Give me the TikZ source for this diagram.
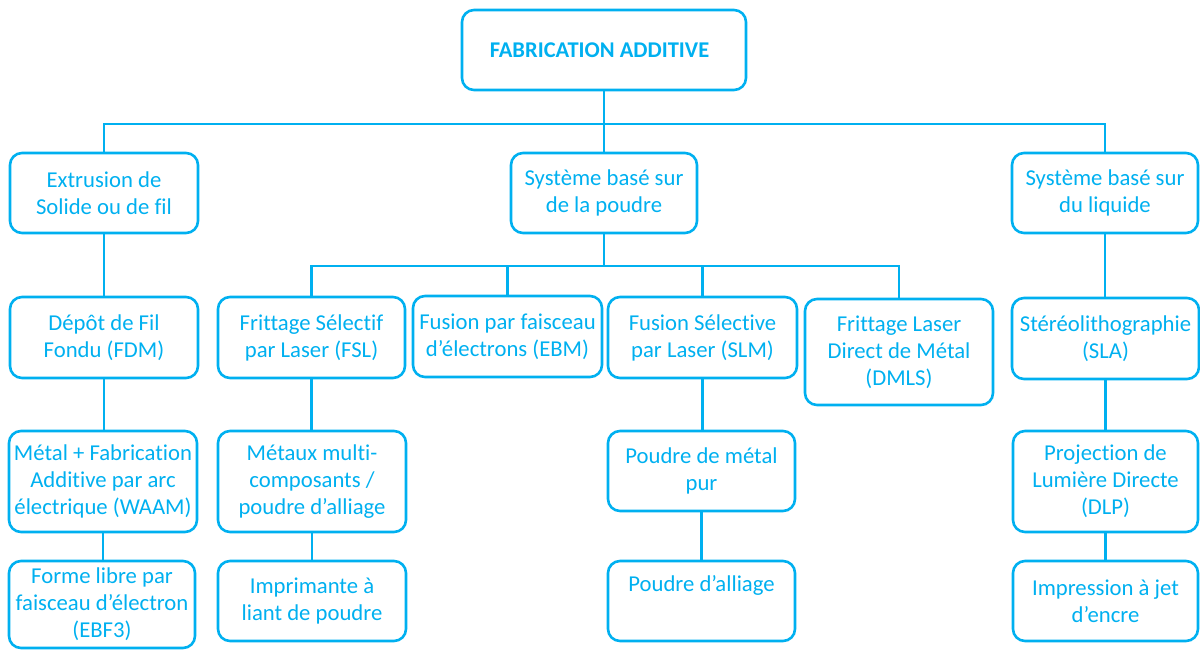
\documentclass[tikz,border=0pt]{standalone}
\usepackage{fontspec}
\setmainfont{Carlito}[Ligatures={TeX,NoCommon}]
\definecolor{cb}{RGB}{0,176,240}
\begin{document}
\begin{tikzpicture}[x=1pt,y=-1pt,
  box/.style={draw=cb, line width=2.6pt, rounded corners=12pt, align=center,
    text=cb, inner sep=0pt, font=\fontsize{22.7}{27}\selectfont,
    minimum width=187pt, minimum height=81pt},
  link/.style={draw=cb, line width=2.2pt}]
\useasboundingbox (0,0) rectangle (1200,649);
% level 0
\node[box, minimum width=284pt, minimum height=80pt, font=\fontsize{22.5}{27}\selectfont\bfseries] (top) at (604,50) {FABRICATION ADDITIVE\hspace*{9pt}};
% level 1
\node[box, minimum width=188pt, minimum height=80pt] (ext) at (104,193) {Extrusion de\\Solide ou de fil};
\node[box, minimum width=186pt, minimum height=80pt] (pou) at (604,193) {Système basé sur\\de la poudre};
\node[box, minimum width=186pt, minimum height=80pt] (liq) at (1105,193) {Système basé sur\\du liquide};
% level 2
\node[box, minimum width=188pt] (fdm) at (104,337.5) {Dépôt de Fil\\Fondu (FDM)};
\node[box] (fsl) at (311.5,337.5) {Frittage Sélectif\\par Laser (FSL)};
\node[box, minimum width=189pt] (ebm) at (507.5,336.5) {Fusion par faisceau\\d’électrons (EBM)};
\node[box, minimum width=189pt] (slm) at (702.5,337.5) {Fusion Sélective\\par Laser (SLM)};
\node[box, minimum width=188pt, minimum height=106pt] (dmls) at (899,352) {Frittage Laser\\Direct de Métal\\(DMLS)};
\node[box] (sla) at (1105.5,338.5) {Stéréolithographie\\(SLA)};
% level 3
\node[box, minimum width=188pt, minimum height=101pt] (waam) at (103,481.5) {Métal + Fabrication\\Additive par arc\\électrique (WAAM)};
\node[box, minimum width=188pt, minimum height=101pt] (met) at (312,481.5) {Métaux multi-\\composants /\\poudre d'alliage};
\node[box, minimum height=80pt] (pur) at (701.5,471) {Poudre de métal\\pur};
\node[box, minimum width=185pt, minimum height=101pt] (dlp) at (1105.5,481.5) {Projection de\\Lumière Directe\\(DLP)};
% level 4
\node[box, minimum width=186pt, minimum height=87pt] (ebf) at (102,604.5) {Forme libre par\\faisceau d’électron\\(EBF3)};
\node[box, minimum width=188pt, minimum height=80pt] (imp) at (312,601) {Imprimante à\\liant de poudre};
\node[box, minimum height=80pt] (all) at (701.5,601) {Poudre d’alliage\\\strut};
\node[box, minimum width=185pt, minimum height=80pt] (jet) at (1105.5,601) {Impression à jet\\d’encre};
% connectors
\coordinate (j1) at (604,124);
\coordinate (j2) at (604,266);
\draw[link] (top.south) -- (j1);
\draw[link] (ext.north) |- (j1) -| (liq.north);
\draw[link] (j1) -- (pou.north);
\draw[link] (pou.south) -- (j2);
\draw[link] (fsl.north) |- (j2) -| (dmls.north);
\draw[link] (ebm.north) -- (ebm.north |- j2);
\draw[link] (slm.north) -- (slm.north |- j2);
\draw[link] (ext.south) -- (ext.south |- fdm.north);
\draw[link] (fdm.south) -- (fdm.south |- waam.north);
\draw[link] (waam.south) -- (waam.south |- ebf.north);
\draw[link] (fsl.south) -- (fsl.south |- met.north);
\draw[link] (met.south) -- (met.south |- imp.north);
\draw[link] (slm.south) -- (slm.south |- pur.north);
\draw[link] (pur.south) -- (pur.south |- all.north);
\draw[link] (liq.south) -- (liq.south |- sla.north);
\draw[link] (sla.south) -- (sla.south |- dlp.north);
\draw[link] (dlp.south) -- (dlp.south |- jet.north);
\end{tikzpicture}
\end{document}
